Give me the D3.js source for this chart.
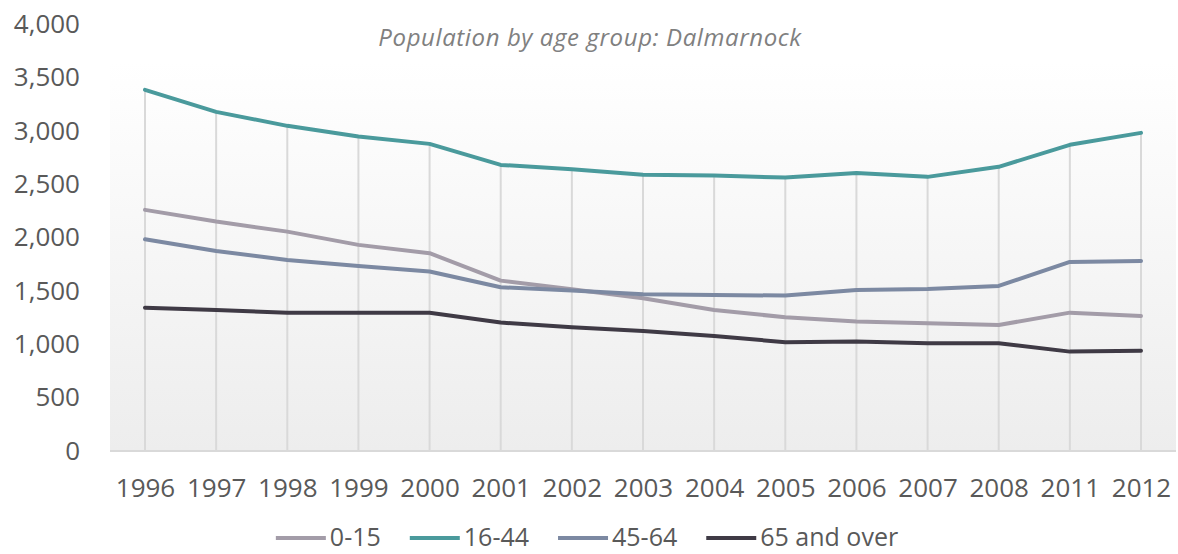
<!DOCTYPE html>
<html>
<head>
<meta charset="utf-8">
<script src="https://cdn.jsdelivr.net/npm/d3@7"></script>
<style>
  body { margin: 0; background: #ffffff; }
  svg { display: block; font-family: "Open Sans", sans-serif; }
</style>
</head>
<body>
<div id="chart"></div>
<script>
// data
const YEARS = ["1996", "1997", "1998", "1999", "2000", "2001", "2002", "2003",
               "2004", "2005", "2006", "2007", "2008", "2011", "2012"];
const AGE_0_15 = [2259, 2149, 2055, 1931, 1853, 1596, 1515, 1431, 1321, 1253, 1212, 1197, 1181, 1296, 1265];
const AGE_16_44 = [3383, 3177, 3046, 2946, 2877, 2680, 2640, 2587, 2580, 2561, 2605, 2568, 2662, 2868, 2980];
const AGE_45_64 = [1984, 1874, 1790, 1734, 1681, 1534, 1503, 1469, 1462, 1456, 1509, 1518, 1546, 1771, 1781];
const AGE_65_PLUS = [1343, 1321, 1296, 1296, 1296, 1203, 1159, 1125, 1078, 1019, 1025, 1009, 1009, 931, 940];
const SERIES_NAMES = ["0-15", "16-44", "45-64", "65 and over"];
const Y_TICKS = [0, 500, 1000, 1500, 2000, 2500, 3000, 3500, 4000];
const TITLE = "Population by age group: Dalmarnock";

const WIDTH = 1178, HEIGHT = 554;
const PLOT = { left: 110, right: 1176, top: 62, bottom: 451 };
const COLORS = ["#a39ca8", "#4a9a9c", "#7c89a2", "#3f3a45"];

const svg = d3.select("#chart").append("svg")
    .attr("width", WIDTH)
    .attr("height", HEIGHT);

const series = SERIES_NAMES.map((name, i) => ({
    name: name,
    color: COLORS[i],
    values: [AGE_0_15, AGE_16_44, AGE_45_64, AGE_65_PLUS][i]
}));

const xScale = d3.scalePoint().domain(YEARS).range([145, 1141]);
const yScale = d3.scaleLinear().domain([0, 4000]).range([PLOT.bottom, 24]);

// soft grey gradient behind the plot
const grad = svg.append("defs").append("linearGradient")
    .attr("id", "bg").attr("x1", 0).attr("y1", 0).attr("x2", 0).attr("y2", 1);
grad.append("stop").attr("offset", "0%").attr("stop-color", "#ffffff");
grad.append("stop").attr("offset", "100%").attr("stop-color", "#ededed");

svg.append("rect")
    .attr("x", PLOT.left).attr("y", PLOT.top)
    .attr("width", PLOT.right - PLOT.left)
    .attr("height", PLOT.bottom - PLOT.top)
    .attr("fill", "url(#bg)");

// drop lines from the highest series down to the axis
svg.append("g").selectAll("line")
    .data(YEARS)
    .enter().append("line")
    .attr("x1", d => xScale(d)).attr("x2", d => xScale(d))
    .attr("y1", (d, i) => yScale(d3.max(series, s => s.values[i])))
    .attr("y2", PLOT.bottom)
    .attr("stroke", "#d9d9d9")
    .attr("stroke-width", 2);

// baseline
svg.append("line")
    .attr("x1", PLOT.left).attr("x2", PLOT.right)
    .attr("y1", PLOT.bottom).attr("y2", PLOT.bottom)
    .attr("stroke", "#d9d9d9")
    .attr("stroke-width", 2);

// y axis
const yAxis = svg.append("g")
    .attr("transform", "translate(" + PLOT.left + ",0)")
    .call(d3.axisLeft(yScale).tickValues(Y_TICKS).tickSize(0).tickPadding(30)
        .tickFormat(d3.format(",")));
yAxis.select(".domain").remove();
yAxis.selectAll("text")
    .attr("font-size", "26px")
    .attr("font-family", "Open Sans, sans-serif")
    .attr("fill", "#595959");

// x axis
const xAxis = svg.append("g")
    .attr("transform", "translate(0," + PLOT.bottom + ")")
    .call(d3.axisBottom(xScale).tickSize(0).tickPadding(28));
xAxis.select(".domain").remove();
xAxis.selectAll("text")
    .attr("font-size", "26px")
    .attr("font-family", "Open Sans, sans-serif")
    .attr("fill", "#595959");

// lines
const line = d3.line()
    .x((d, i) => xScale(YEARS[i]))
    .y(d => yScale(d));

svg.append("g").selectAll("path")
    .data(series)
    .enter().append("path")
    .attr("d", d => line(d.values))
    .attr("fill", "none")
    .attr("stroke", d => d.color)
    .attr("stroke-width", 4)
    .attr("stroke-linejoin", "round")
    .attr("stroke-linecap", "round");

// title
svg.append("text")
    .attr("x", 590).attr("y", 46)
    .attr("text-anchor", "middle")
    .attr("font-size", "24px")
    .attr("font-style", "italic")
    .attr("letter-spacing", "0.6px")
    .attr("fill", "#808080")
    .text(TITLE);

// legend, centred under the chart
const legend = svg.append("g");
const items = legend.selectAll("g")
    .data(series)
    .enter().append("g");
items.append("line")
    .attr("x1", 0).attr("x2", 50)
    .attr("y1", 538).attr("y2", 538)
    .attr("stroke", d => d.color)
    .attr("stroke-width", 4);
items.append("text")
    .attr("x", 54).attr("y", 546)
    .attr("font-size", "25px")
    .attr("fill", "#595959")
    .text(d => d.name);

let xPos = 0;
items.each(function () {
    const g = d3.select(this);
    g.attr("transform", "translate(" + xPos + ",0)");
    xPos += 54 + g.select("text").node().getComputedTextLength() + 29;
});
const legendWidth = xPos - 29;
legend.attr("transform", "translate(" + (587 - legendWidth / 2) + ",0)");
</script>
</body>
</html>
